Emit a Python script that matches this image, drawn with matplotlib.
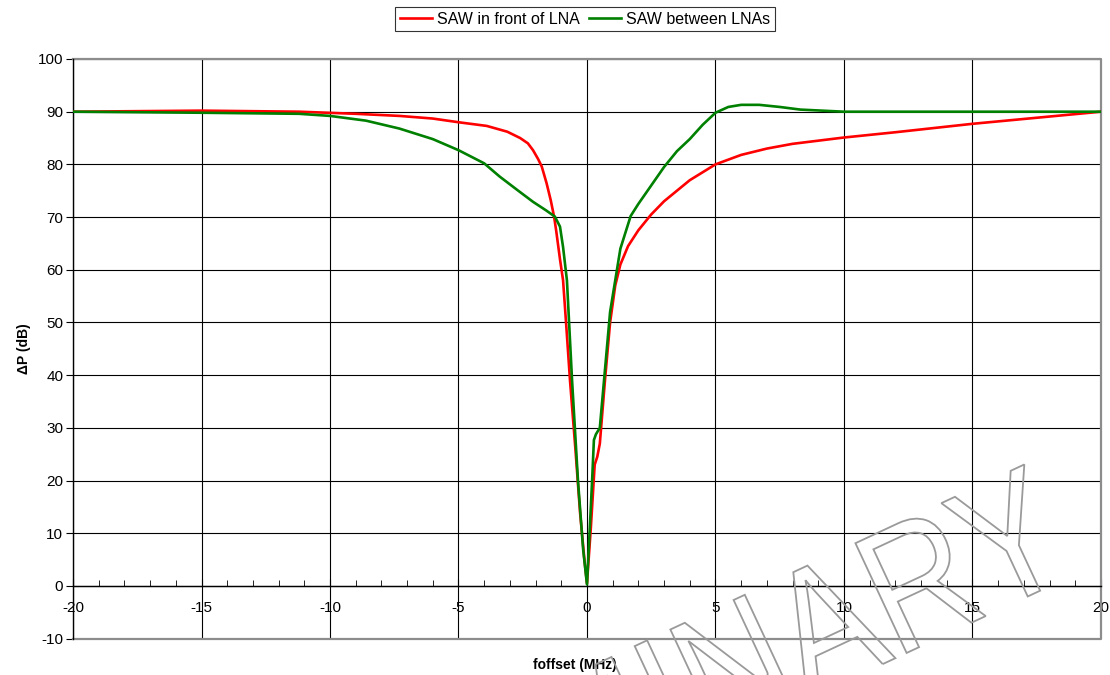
import matplotlib.pyplot as plt
from matplotlib.textpath import TextPath
from matplotlib.patches import PathPatch
from matplotlib.font_manager import FontProperties
from matplotlib.transforms import Affine2D, IdentityTransform
from matplotlib.ticker import MultipleLocator

plt.rcParams["font.family"] = ["Liberation Sans", "DejaVu Sans"]
plt.rcParams["font.size"] = 11
plt.rcParams["axes.unicode_minus"] = False

# SAW in front of LNA
x_front = [-20, -15, -11.2, -9, -7.3, -6, -5, -3.9, -3.1, -2.6, -2.3, -2.1, -1.9, -1.76,
           -1.57, -1.41, -1.28, -1.2, -1.05, -0.93, -0.8, -0.66, -0.45, -0.27, -0.1, 0,
           0.15, 0.3, 0.4, 0.5, 0.6, 0.7, 0.9, 1.1, 1.3, 1.6, 2.0, 2.5, 3, 3.5, 4, 5, 6, 7,
           8, 10, 12, 15, 20]
y_front = [90, 90.2, 90, 89.6, 89.2, 88.7, 88.0, 87.3, 86.2, 85, 84, 82.7, 81, 79.6,
           76.4, 73.2, 70.1, 67.5, 62, 58, 49, 39, 26, 14, 5, 0.5,
           11, 23, 24.5, 27, 33, 39, 50, 57, 61, 64.5, 67.5, 70.5, 73, 75, 77, 80, 81.8, 83,
           83.9, 85.1, 86.1, 87.7, 90]

# SAW between LNAs
x_between = [-20, -15, -11.2, -10, -8.6, -7.3, -6, -5, -4, -3.4, -2.7, -2.1, -1.6, -1.25,
             -1.05, -0.93, -0.78, -0.58, -0.35, -0.15, 0, 0.1, 0.2, 0.27, 0.35, 0.5, 0.7,
             0.9, 1.1, 1.3, 1.7, 2.0, 2.5, 3, 3.5, 4, 4.5, 5, 5.5, 6, 6.7, 7.5, 8.3, 10, 15, 20]
y_between = [90, 89.8, 89.6, 89.2, 88.3, 86.8, 84.8, 82.7, 80.2, 77.7, 75.1, 72.9, 71.3, 70.1,
             68.2, 64.3, 58, 39, 20, 7, 0.3, 10, 20, 27.7, 28.8, 30, 41,
             52, 58, 64, 70.2, 72.5, 76, 79.5, 82.5, 84.8, 87.5, 89.8, 90.9, 91.3, 91.3, 90.9, 90.4, 90, 90, 90]

series_labels = ["SAW in front of LNA", "SAW between LNAs"]

fig = plt.figure(figsize=(11.1, 6.75), dpi=100)
ax = fig.add_axes([0.0658, 0.0538, 0.926, 0.8588])

ax.plot(x_front, y_front, color="#FF0000", lw=1.9, label=series_labels[0], zorder=4)
ax.plot(x_between, y_between, color="#008000", lw=1.9, label=series_labels[1], zorder=5)

ax.set_xlim(-20, 20)
ax.set_ylim(-10, 100)
ax.xaxis.set_major_locator(MultipleLocator(5))
ax.xaxis.set_minor_locator(MultipleLocator(1))
ax.yaxis.set_major_locator(MultipleLocator(10))

ax.grid(True, which="major", color="black", lw=0.8, zorder=1)

# x axis crosses at y = 0, y axis at x = -20
ax.spines["bottom"].set_position(("data", 0))
ax.spines["bottom"].set_linewidth(1.0)
ax.spines["left"].set_linewidth(1.0)
for s in ["top", "right"]:
    ax.spines[s].set_visible(False)
# gray plot-area border
ax.plot([-20, 20, 20, -20], [-10, -10, 100, 100], color="#8c8c8c", lw=1.6,
        clip_on=False, zorder=2)

ax.tick_params(axis="x", which="both", direction="in", pad=11, labelsize=11)
ax.tick_params(axis="x", which="major", length=5)
ax.tick_params(axis="x", which="minor", length=4)
ax.tick_params(axis="y", direction="out", length=5, pad=2, labelsize=11)

ax.set_xlabel("foffset (MHz)", fontweight="bold", fontsize=10)
ax.xaxis.set_label_coords(0.488, -0.034)
ax.set_ylabel("ΔP (dB)", fontweight="bold", fontsize=10)
ax.yaxis.set_label_coords(-0.041, 0.5)

leg = fig.legend(loc="upper center", bbox_to_anchor=(0.527, 0.99), ncol=2,
                 frameon=True, fancybox=False, edgecolor="black", fontsize=11.5,
                 handlelength=2.0, handletextpad=0.3, columnspacing=0.6,
                 borderpad=0.3, borderaxespad=0)
leg.get_frame().set_linewidth(0.8)

# watermark outline
fp = FontProperties(family="Liberation Sans")
tp = TextPath((0, 0), "PRELIMINARY", size=1, prop=fp)
ext = tp.get_extents()
xc = (ext.x0 + ext.x1) / 2
tr = Affine2D().translate(-xc, 0).scale(147, 176).rotate_deg(25).translate(632, -106)
wm = PathPatch(tr.transform_path(tp), facecolor="none", edgecolor="#9a9a9a",
               lw=1.3, transform=IdentityTransform(), zorder=10)
fig.add_artist(wm)

fig.savefig("out.png", dpi=100)
